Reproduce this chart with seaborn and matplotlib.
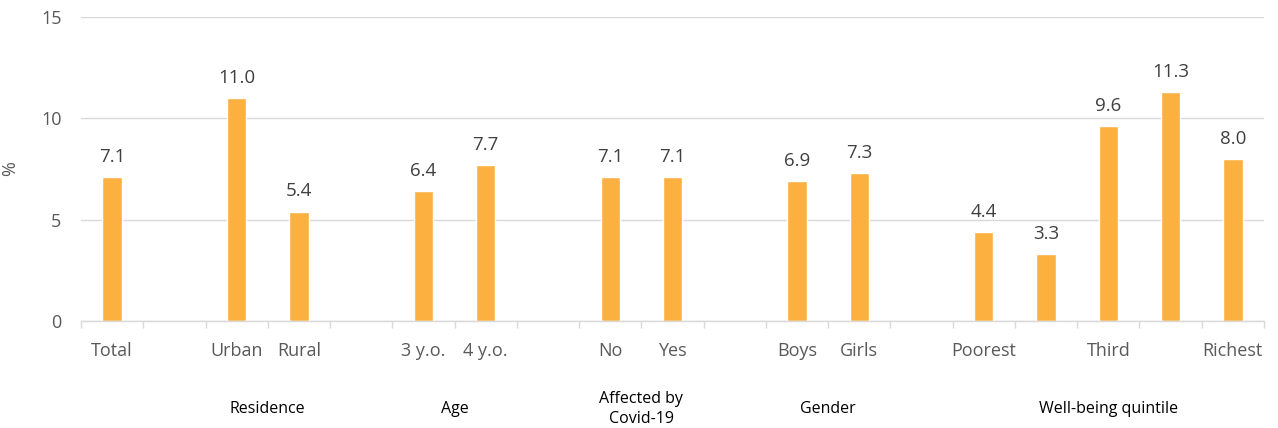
import numpy as np
import pandas as pd
import matplotlib
matplotlib.use("Agg")
import matplotlib.pyplot as plt
import seaborn as sns

# ---- data ----
slot_labels = ["Total", "", "Urban", "Rural", "", "3 y.o.", "4 y.o.", "", "No", "Yes", "",
               "Boys", "Girls", "", "Poorest", "", "Third", "", "Richest"]
values = [7.1, None, 11.0, 5.4, None, 6.4, 7.7, None, 7.1, 7.1, None,
          6.9, 7.3, None, 4.4, 3.3, 9.6, 11.3, 8.0]
groups = ["Residence", "Age", "Affected by\nCovid-19", "Gender", "Well-being quintile"]
group_members = [[2, 3], [5, 6], [8, 9], [11, 12], [14, 15, 16, 17, 18]]
y_ticks = [0, 5, 10, 15]

keys = [f"s{i}" for i in range(len(slot_labels))]
df = pd.DataFrame({"key": keys, "value": values}).dropna()

sns.set_theme(style="white")
plt.rcParams["font.family"] = ["Open Sans", "DejaVu Sans"]

fig = plt.figure(figsize=(12.78, 4.28), dpi=100)
ax = fig.add_axes([81/1278, 1 - 321/428, (1264 - 81)/1278, (321 - 17)/428])

bar_color = "#FBB040"
sns.barplot(data=df, x="key", y="value", order=keys, color=bar_color,
            width=0.31, saturation=1, ax=ax, errorbar=None)

text_grey = "#595959"
ax.set_ylim(0, 15)
ax.set_xlim(-0.5, len(keys) - 0.5)
ax.set_yticks(y_ticks)
ax.set_yticklabels([str(t) for t in y_ticks], color=text_grey, fontsize=13)
ax.yaxis.grid(True, color="#D9D9D9", linewidth=1)
ax.set_axisbelow(True)
for s in ["left", "right", "top"]:
    ax.spines[s].set_visible(False)
ax.spines["bottom"].set_color("#D9D9D9")
ax.spines["bottom"].set_linewidth(1)
ax.tick_params(axis="y", length=0, pad=14)

ax.set_xticks(range(len(keys)))
ax.set_xticklabels(slot_labels, color=text_grey, fontsize=13)
ax.tick_params(axis="x", which="major", length=0, pad=15)
ax.set_xticks(np.arange(-0.5, len(keys), 1.0), minor=True)
ax.tick_params(axis="x", which="minor", bottom=True, length=5, color="#D9D9D9",
               width=1, direction="out")
ax.set_xlabel("")
ax.set_ylabel("%", color=text_grey, fontsize=13, labelpad=16)

# value labels
for i, v in enumerate(values):
    if v is not None:
        ax.annotate(f"{v:.1f}", (i, v), xytext=(0, 8), textcoords="offset points",
                    ha="center", va="bottom", color="#404040", fontsize=13.5)

# group labels
for g, members in zip(groups, group_members):
    cx = np.mean(members)
    ax.text(cx, -0.29, g, transform=ax.get_xaxis_transform(), ha="center", va="center",
            fontsize=11.5, color="black", linespacing=1.35)

fig.savefig("out.png", dpi=100)
